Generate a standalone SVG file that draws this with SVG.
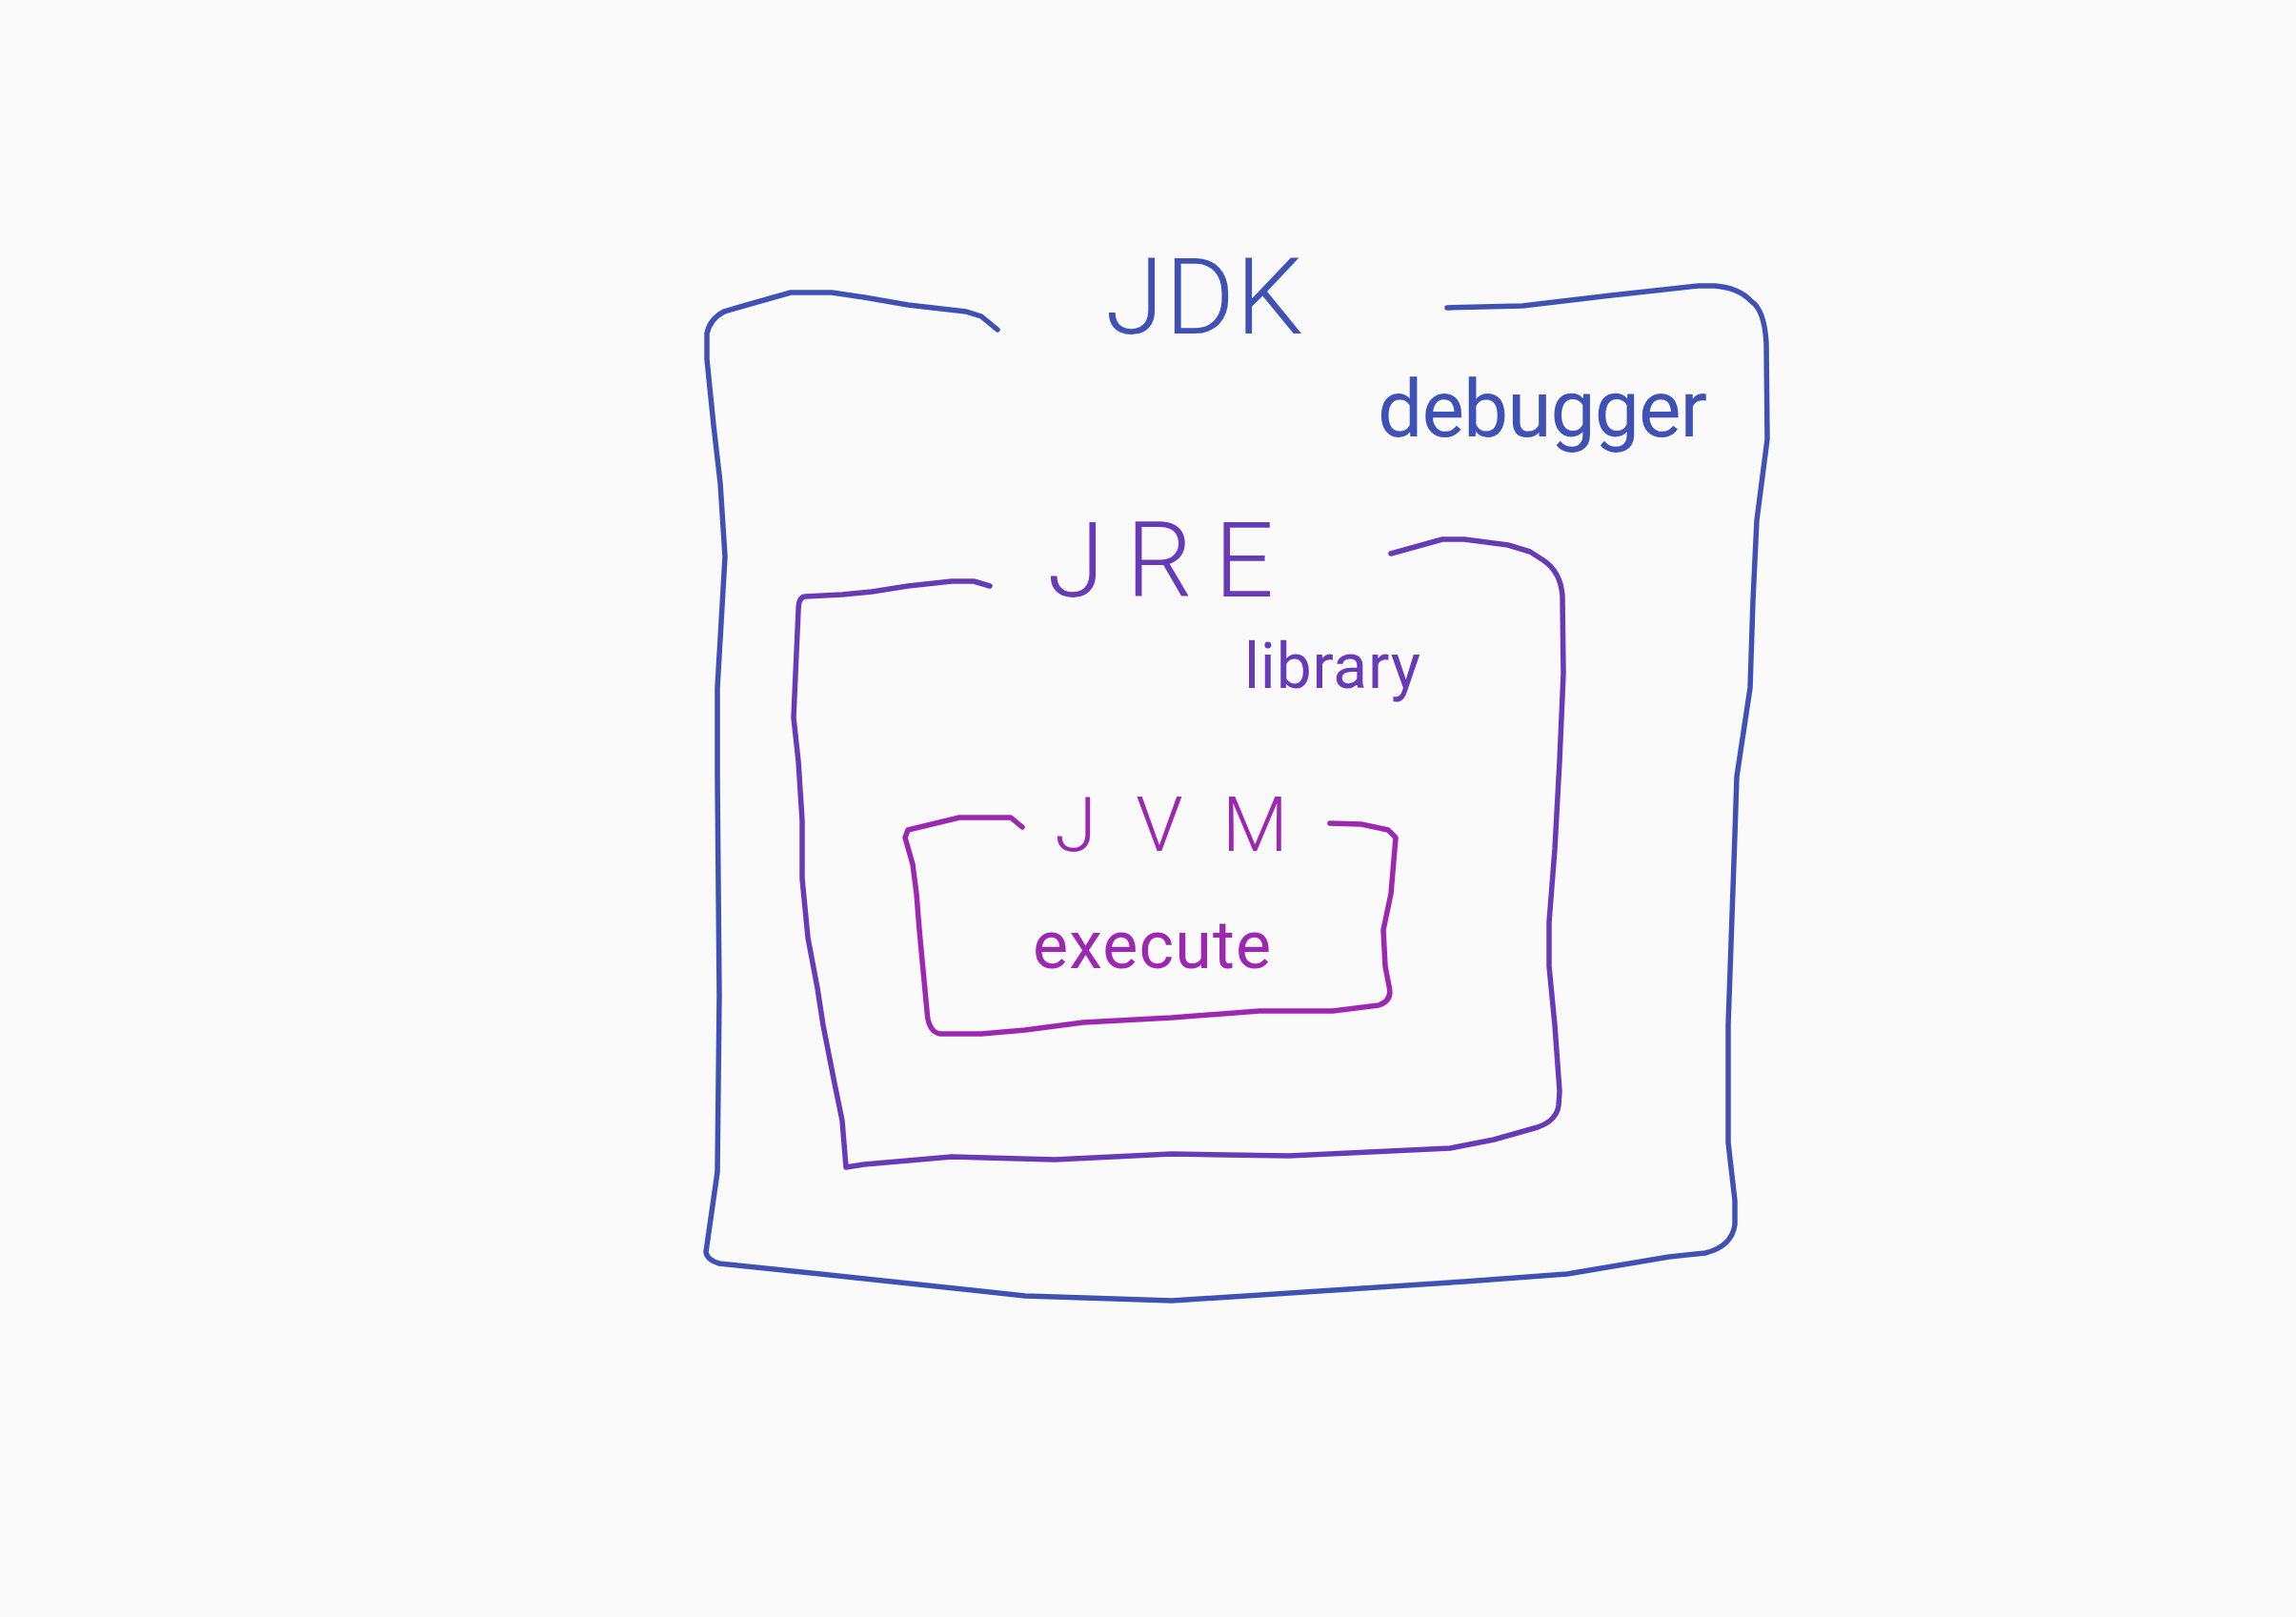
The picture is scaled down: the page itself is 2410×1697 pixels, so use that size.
<svg xmlns="http://www.w3.org/2000/svg" width="2410" height="1697" viewBox="0 0 2410 1697">
<style>
.box{fill:none;stroke-width:5.5;stroke-linecap:round;stroke-linejoin:round}
.t{font-family:"Roboto","Open Sans","Liberation Sans",sans-serif;font-weight:300}
.s{font-family:"Roboto","Open Sans","Liberation Sans",sans-serif;font-weight:400}
.jdk{stroke:#3f51b5}
.jre{stroke:#673ab7}
.jvm{stroke:#9c27b0}
</style>
<rect width="2410" height="1697" fill="#fafafa"/>
<g id="jdk">
<path class="box jdk" d="M1047,346 L1030,332 L1014,327 L953,320 L907,312 L873,307 L830,307 L784,320 L760,327 Q745,335 742,350 L742,377 L749,446 L756,507 L761,584 L753,722 L753,815 L755,1045 L753,1230 L741,1314 Q742,1322 755,1326 L861,1337 L1076,1360 L1230,1365 L1537,1345 L1645,1337 L1752,1319 L1790,1315 Q1818,1308 1821,1285 L1821,1260 L1814,1199 L1814,1076 L1821,876 L1823,815 L1837,722 L1840,630 L1844,546 L1855,461 L1854,360 Q1852,325 1838,316 Q1825,302 1800,300 L1783,300 L1691,310 L1598,321 L1519,323"/>
<text class="t" x="1160" y="350" font-size="112" fill="#3f51b5" textLength="208" lengthAdjust="spacing">JDK</text>
<text class="s" x="1446" y="458" font-size="84" fill="#3f51b5" textLength="346" lengthAdjust="spacing">debugger</text>
</g>
<g id="jre">
<path class="box jre" d="M1039,615 L1022,610 L999,610 L953,615 L915,621 L884,624 L845,626 Q838,627 838,640 L833,753 L838,799 L842,861 L842,922 L848,984 L858,1037 L864,1076 L876,1137 L884,1176 L888,1225 L907,1222 L999,1214 L1107,1217 L1230,1211 L1353,1213 L1522,1205 L1568,1196 L1614,1183 Q1634,1176 1636,1160 L1637,1145 L1632,1076 L1626,1014 L1626,968 L1632,891 L1637,799 L1641,707 L1640,625 Q1638,600 1620,588 L1606,579 L1583,572 L1537,566 L1514,566 L1460,581"/>
<text class="t" x="1099" y="626" font-size="110" fill="#673ab7" textLength="238" lengthAdjust="spacing">JRE</text>
<text class="s" x="1306" y="722" font-size="66" fill="#673ab7" textLength="185" lengthAdjust="spacing">library</text>
</g>
<g id="jvm">
<path class="box jvm" d="M1073,868 L1061,858 L1007,858 L953,871 L950,879 L958,907 L962,938 L965,976 L973,1061 Q974,1083 987,1085 L1030,1085 L1076,1081 L1137,1073 L1230,1068 L1322,1061 L1399,1061 L1447,1055 Q1462,1050 1458,1035 L1454,1014 L1452,976 L1460,938 L1465,879 L1457,871 L1429,865 L1396,864"/>
<text class="t" x="1107" y="893" font-size="80" fill="#9c27b0" textLength="245" lengthAdjust="spacing">JVM</text>
<text class="s" x="1084" y="1016" font-size="70" fill="#9c27b0" textLength="250" lengthAdjust="spacing">execute</text>
</g>
<g id="connectors"/>
</svg>
